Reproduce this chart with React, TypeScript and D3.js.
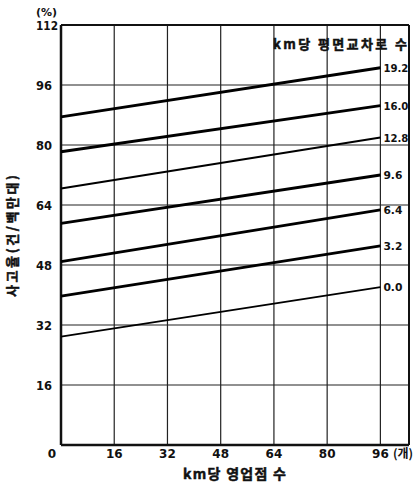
import React from "react";
import * as d3 from "d3";

const xTicks = [0, 16, 32, 48, 64, 80, 96];
const yTicks = [0, 16, 32, 48, 64, 80, 96, 112];
const seriesLabels = ["0.0", "3.2", "6.4", "9.6", "12.8", "16.0", "19.2"];
const startValues = [28.9, 39.7, 48.9, 59.1, 68.4, 78.2, 87.5];
const endValues = [42.1, 53.1, 62.7, 72.0, 82.0, 90.5, 100.6];
const thickSeries = [false, true, true, true, false, true, true];
const xStart = 0;
const xEnd = 96;

const W = 414;
const H = 484;
const left = 61;
const right = 409;
const top = 25;
const bottom = 445;

const krFont = "'Noto Sans CJK KR', sans-serif";
const numFont = "'DejaVu Sans', sans-serif";

export default function App() {
  const x = d3.scaleLinear().domain([0, 104.6]).range([left, right]);
  const y = d3.scaleLinear().domain([0, 112]).range([bottom, top]);
  const line = d3
    .line<[number, number]>()
    .x((d) => x(d[0]))
    .y((d) => y(d[1]));

  const numStyle = { fontFamily: numFont, fontWeight: "bold" as const, fill: "#111" };
  const krStyle = {
    fontFamily: krFont,
    fontWeight: "bold" as const,
    fill: "#111",
    stroke: "#111",
    strokeWidth: 0.5,
  };

  return (
    <svg
      width={W}
      height={H}
      style={{ position: "absolute", left: 0, top: 0, background: "#fff" }}
    >
      <rect x={0} y={0} width={W} height={H} fill="#fff" />
      {/* grid */}
      {xTicks.slice(1).map((t) => (
        <line key={"gx" + t} x1={x(t)} x2={x(t)} y1={top} y2={bottom} stroke="#222" strokeWidth={1.2} />
      ))}
      {yTicks.slice(1, -1).map((t) => (
        <line key={"gy" + t} x1={left} x2={right} y1={y(t)} y2={y(t)} stroke="#222" strokeWidth={1.2} />
      ))}
      {/* frame */}
      <line x1={left} x2={right} y1={top} y2={top} stroke="#111" strokeWidth={2} />
      <line x1={right} x2={right} y1={top} y2={bottom} stroke="#111" strokeWidth={2} />
      <line x1={left} x2={right} y1={bottom} y2={bottom} stroke="#111" strokeWidth={2.5} />
      <line x1={left} x2={left} y1={top} y2={bottom} stroke="#111" strokeWidth={2.5} />

      {/* series */}
      {seriesLabels.map((lab, i) => (
        <g key={lab}>
          <path
            d={line([
              [xStart, startValues[i]],
              [xEnd, endValues[i]],
            ]) || ""}
            fill="none"
            stroke="#000"
            strokeWidth={thickSeries[i] ? 3 : 2}
          />
          <text
            x={x(xEnd) + 3}
            y={y(endValues[i]) + 4}
            fontSize={11}
            textLength={lab.length === 4 ? 25 : 19}
            lengthAdjust="spacingAndGlyphs"
            {...numStyle}
          >
            {lab}
          </text>
        </g>
      ))}

      {/* legend title */}
      <text x={273} y={49} fontSize={13} textLength={134} lengthAdjust="spacing" {...krStyle}>
        km당 평면교차로 수
      </text>

      {/* y ticks */}
      {yTicks.slice(1).map((t) => (
        <text
          key={"yt" + t}
          x={36}
          y={y(t) + 4.5}
          fontSize={12}
          textLength={String(t).length === 3 ? 22 : 16}
          lengthAdjust="spacingAndGlyphs"
          {...numStyle}
        >
          {t}
        </text>
      ))}
      <text x={36} y={16} fontSize={11} {...numStyle}>
        (%)
      </text>

      {/* x ticks */}
      {xTicks.map((t) => (
        <text
          key={"xt" + t}
          x={t === 0 ? 52 : x(t)}
          y={458}
          textAnchor="middle"
          fontSize={12}
          {...numStyle}
        >
          {t}
        </text>
      ))}
      <text x={393} y={458} fontSize={12} fontFamily={krFont} fontWeight="bold" fill="#111">
        (개)
      </text>
      <text x={183} y={479} fontSize={14} textLength={103} lengthAdjust="spacing" {...krStyle}>
        km당 영업점 수
      </text>
      <text
        transform={`translate(17, 236) rotate(-90)`}
        textAnchor="middle"
        fontSize={13}
        textLength={122}
        lengthAdjust="spacing"
        {...krStyle}
      >
        사고율(건/백만대)
      </text>
    </svg>
  );
}
